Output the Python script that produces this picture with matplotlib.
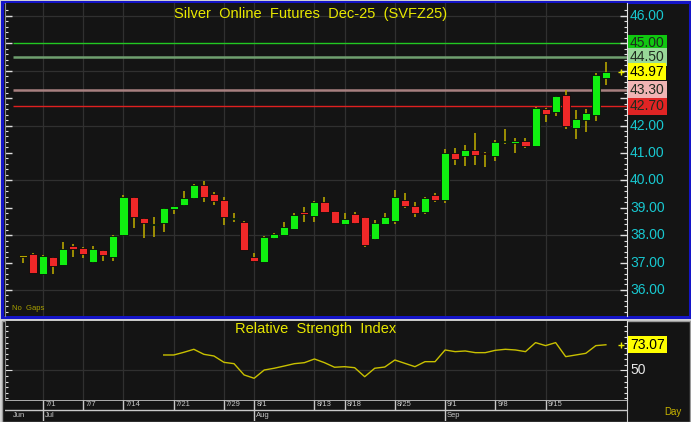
import numpy as np
import matplotlib
matplotlib.use("Agg")
import matplotlib.pyplot as plt
from matplotlib.patches import Rectangle

# daily bars, Silver Online Futures Dec-25
opens = [37.22, 37.31, 36.60, 37.19, 36.91, 37.61, 37.54, 37.03, 37.46, 37.19,
         37.99, 39.38, 38.62, 38.36, 38.43, 38.96, 39.09, 39.35, 39.82, 39.49,
         39.28, 38.60, 38.49, 37.22, 37.02, 37.91, 38.02, 38.23, 38.83, 38.69,
         39.22, 38.88, 38.40, 38.78, 38.65, 37.85, 38.41, 38.52, 39.28, 39.08,
         38.85, 39.46, 39.28, 40.99, 40.90, 41.11, 40.99, 40.90, 41.39, 41.38,
         41.45, 41.26, 42.59, 42.49, 43.13, 41.91, 42.20, 42.39, 43.75]
highs = [37.24, 37.34, 37.26, 37.20, 37.74, 37.67, 37.55, 37.61, 37.47, 38.00,
         39.46, 39.39, 38.63, 38.65, 39.00, 39.06, 39.62, 39.87, 39.98, 39.59,
         39.38, 38.80, 38.50, 37.36, 37.98, 38.09, 38.49, 38.82, 39.02, 39.25,
         39.40, 38.89, 38.82, 38.84, 38.66, 38.55, 38.82, 39.65, 39.53, 39.21,
         39.38, 39.55, 41.13, 41.18, 41.29, 41.72, 41.05, 41.47, 41.86, 41.56,
         41.56, 42.69, 42.65, 43.09, 43.30, 42.57, 42.59, 43.91, 44.33]
lows = [37.00, 36.63, 36.58, 36.58, 36.90, 37.19, 37.16, 37.00, 37.07, 37.07,
        37.98, 38.25, 37.89, 37.92, 38.13, 38.77, 39.05, 39.33, 39.20, 39.11,
        38.38, 38.49, 37.45, 37.02, 37.01, 37.87, 38.00, 38.21, 38.49, 38.49,
        38.85, 38.45, 38.39, 38.42, 37.58, 37.84, 38.40, 38.40, 38.98, 38.67,
        38.78, 39.21, 39.19, 40.56, 40.53, 40.56, 40.50, 40.71, 41.32, 40.99,
        41.17, 41.24, 42.13, 42.35, 41.89, 41.52, 41.77, 42.16, 43.48]
closes = [37.22, 36.63, 37.24, 36.89, 37.51, 37.50, 37.32, 37.48, 37.29, 37.98,
          39.38, 38.66, 38.43, 38.40, 38.98, 39.05, 39.35, 39.82, 39.39, 39.26,
          38.66, 38.64, 37.46, 37.06, 37.92, 38.04, 38.31, 38.75, 38.77, 39.22,
          38.86, 38.46, 38.59, 38.43, 37.64, 38.46, 38.65, 39.39, 39.08, 38.82,
          39.36, 39.28, 40.99, 40.78, 41.11, 40.93, 40.95, 41.39, 41.42, 41.41,
          41.27, 42.65, 42.42, 43.06, 41.99, 42.25, 42.46, 43.85, 43.97]

# RSI(14), first value on bar 14
rsi_start = 14
rsi = [63.9, 63.9, 66.3, 69.0, 64.5, 63.0, 57.3, 56.1, 46.0, 43.0,
       50.4, 52.0, 54.0, 56.1, 57.0, 60.3, 57.0, 52.9, 53.4, 52.5,
       44.4, 52.0, 53.1, 59.4, 56.4, 53.4, 57.9, 57.9, 68.4, 66.9,
       67.5, 66.0, 66.0, 68.1, 69.0, 68.4, 66.9, 75.0, 72.3, 75.0,
       62.4, 63.9, 65.4, 72.3, 73.07]

# date separators (bar index -> label)
date_idx = [2, 6, 10, 15, 20, 23, 29, 32, 37, 42, 47, 52]
date_labels = ['7/1', '7/7', '7/14', '7/21', '7/29', '8/1', '8/13', '8/18', '8/25', '9/1', '9/8', '9/15']
month_idx = [2, 23, 42]
month_labels = ['Jul', 'Aug', 'Sep']

# horizontal levels
levels = [45.00, 44.50, 43.30, 42.70]
level_colors = ['#22c822', '#6f9f6f', '#a88080', '#e02020']
level_box_fc = ['#10c810', '#98d898', '#f0b4b4', '#e02424']
level_lw = [1.0, 1.8, 1.8, 1.0]

W, H = 691, 422
BG = '#141414'
GRID = '#303030'
WICK = '#b4a400'
UP = '#10f010'
DOWN = '#f02828'
CYAN = '#18c8d0'
YEL = '#e8e800'

plt.rcParams['font.family'] = ['Liberation Sans', 'DejaVu Sans']


def rect(x0, y0, x1, y1):
    # pixel box (top-left origin) -> figure fraction [l, b, w, h]
    return [x0 / W, 1 - y1 / H, (x1 - x0) / W, (y1 - y0) / H]


fig = plt.figure(figsize=(W / 100, H / 100), dpi=100, facecolor='#d4d4d4')

# panel backgrounds
l, b, w, h = rect(1.5, 1.5, 689.5, 317)
fig.add_artist(Rectangle((l, b), w, h, transform=fig.transFigure,
                         fc=BG, ec='#1414c8', lw=2.2, zorder=0))
l, b, w, h = rect(1.5, 320.5, 689.5, 421.5)
fig.add_artist(Rectangle((l, b), w, h, transform=fig.transFigure,
                         fc=BG, ec='#9a9a9a', lw=1.0, zorder=0))

n = len(closes)
x = np.arange(n)
xlim = (-1.79, 60.1)

# ---- price panel ----
ax = fig.add_axes(rect(5, 3, 627, 316))
ax.set_facecolor(BG)
ax.set_xlim(*xlim)
ax.set_ylim(35.05, 46.47)

for yy in range(36, 47, 2):
    ax.axhline(yy, color=GRID, lw=0.9, zorder=0)
for xi in date_idx:
    ax.axvline(xi, color=GRID, lw=0.9, zorder=0)

for lv, c, lw in zip(levels, level_colors, level_lw):
    ax.hlines(lv, -1.0, xlim[1], color=c, lw=lw, zorder=1)

ax.vlines(x, lows, highs, color=WICK, lw=1.2, zorder=2)
o = np.array(opens)
c = np.array(closes)
bottoms = np.minimum(o, c)
heights = np.maximum(np.abs(c - o), 0.04)
cols = [UP if cc > oo else (DOWN if cc < oo else WICK) for oo, cc in zip(opens, closes)]
ax.bar(x, heights, bottom=bottoms, width=0.8, color=cols, edgecolor='#0a0a0a',
       linewidth=0.6, zorder=3)

ax.text(0.492, 0.965, 'Silver  Online  Futures  Dec-25  (SVFZ25)', transform=ax.transAxes,
        ha='center', va='center', color=YEL, fontsize=10.5)
ax.text(0.012, 0.012, 'No  Gaps', transform=ax.transAxes, ha='left', va='bottom',
        color='#a8a000', fontsize=5.5)

# right scale
tr = ax.get_yaxis_transform()
for yy in range(36, 47):
    ax.text(1.005, yy, f'{yy:.2f}', transform=tr, ha='left', va='center',
            color=CYAN, fontsize=10, clip_on=False, zorder=4)
for lv, fc in zip(levels, level_box_fc):
    ax.text(1.005, lv, f'{lv:.2f}', transform=tr, ha='left', va='center',
            color='#1e2a1e', fontsize=10, clip_on=False, zorder=6,
            bbox=dict(boxstyle='square,pad=0.12', fc=fc, ec='none'))
ax.text(1.005, closes[-1], f'{closes[-1]:.2f}', transform=tr, ha='left', va='center',
        color='#000000', fontsize=10, clip_on=False, zorder=7,
        bbox=dict(boxstyle='square,pad=0.12', fc='#ffff00', ec='none'))
ax.plot([59.5], [closes[-1]], marker='+', color=YEL, ms=4, mew=1, clip_on=False, zorder=5)

ax.set_yticks(np.arange(36, 47, 1.0))
ax.set_yticks(np.arange(35.2, 46.4, 0.2), minor=True)
ax.tick_params(axis='y', which='both', left=True, right=True, direction='in',
               colors='#e0e0e0', labelleft=False, labelright=False)
ax.tick_params(axis='y', which='major', length=5, width=1)
ax.tick_params(axis='y', which='minor', length=2.5, width=0.8)
ax.set_xticks([])
for s in ['top', 'bottom']:
    ax.spines[s].set_visible(False)
ax.spines['left'].set_color('#8a8a8a')
ax.spines['right'].set_color('#e0e0e0')

# ---- RSI panel ----
ar = fig.add_axes(rect(5, 321, 627, 400))
ar.set_facecolor(BG)
ar.set_xlim(*xlim)
ar.set_ylim(23.5, 94.4)
ar.axhline(50, color=GRID, lw=0.9, zorder=0)
for xi in date_idx:
    ar.axvline(xi, color=GRID, lw=0.9, zorder=0)
ar.plot(np.arange(rsi_start, rsi_start + len(rsi)), rsi, color='#c8c000', lw=1.0)
ar.text(0.5, 0.9, 'Relative  Strength  Index', transform=ar.transAxes, ha='center',
        va='center', color=YEL, fontsize=10.5)
tr2 = ar.get_yaxis_transform()
ar.text(1.005, 50, '50', transform=tr2, ha='left', va='center', color='#e8e8e8',
        fontsize=10, clip_on=False)
ar.text(1.005, rsi[-1], f'{rsi[-1]:.2f}', transform=tr2, ha='left', va='center',
        color='#000000', fontsize=10, clip_on=False,
        bbox=dict(boxstyle='square,pad=0.12', fc='#ffff00', ec='none'))
ar.plot([59.5], [rsi[-1]], marker='+', color=YEL, ms=4, mew=1, clip_on=False)
ar.set_yticks([50])
ar.set_yticks(np.arange(25, 95, 5), minor=True)
ar.tick_params(axis='y', which='both', left=True, right=True, direction='in',
               colors='#e0e0e0', labelleft=False, labelright=False)
ar.tick_params(axis='y', which='major', length=5)
ar.tick_params(axis='y', which='minor', length=2.5, width=0.8)
ar.set_xticks([])
for s in ['top', 'bottom']:
    ar.spines[s].set_visible(False)
ar.spines['left'].set_color('#8a8a8a')
ar.spines['right'].set_color('#e0e0e0')

# ---- date strip ----
ad = fig.add_axes(rect(5, 400, 627, 421))
ad.set_facecolor(BG)
ad.set_xlim(*xlim)
ad.set_ylim(0, 21)
ad.axhline(21, color='#c8c8c8', lw=1.2)
ad.axhline(11.5, color='#c8c8c8', lw=1.0)
ad.vlines(date_idx, 11.5, 21, color='#c8c8c8', lw=1.0)
for xi, lab in zip(date_idx, date_labels):
    ad.text(xi + 0.2, 16, lab, ha='left', va='center', color='#c8c8c8', fontsize=5.5)
ad.vlines(month_idx, 0, 11.5, color='#c8c8c8', lw=1.0)
ad.text(-1.0, 5.5, 'Jun', ha='left', va='center', color='#c8c8c8', fontsize=5.5)
for xi, lab in zip(month_idx, month_labels):
    ad.text(xi + 0.2, 5.5, lab, ha='left', va='center', color='#c8c8c8', fontsize=5.5)
ad.set_xticks([])
ad.set_yticks([])
for s in ['top', 'bottom', 'left']:
    ad.spines[s].set_visible(False)
ad.spines['right'].set_color('#c8c8c8')
ad.text(1.06, 0.45, 'Day', transform=ad.transAxes, ha='left', va='center',
        color='#c8b400', fontsize=7)

fig.savefig('out.png', dpi=100, facecolor=fig.get_facecolor())
